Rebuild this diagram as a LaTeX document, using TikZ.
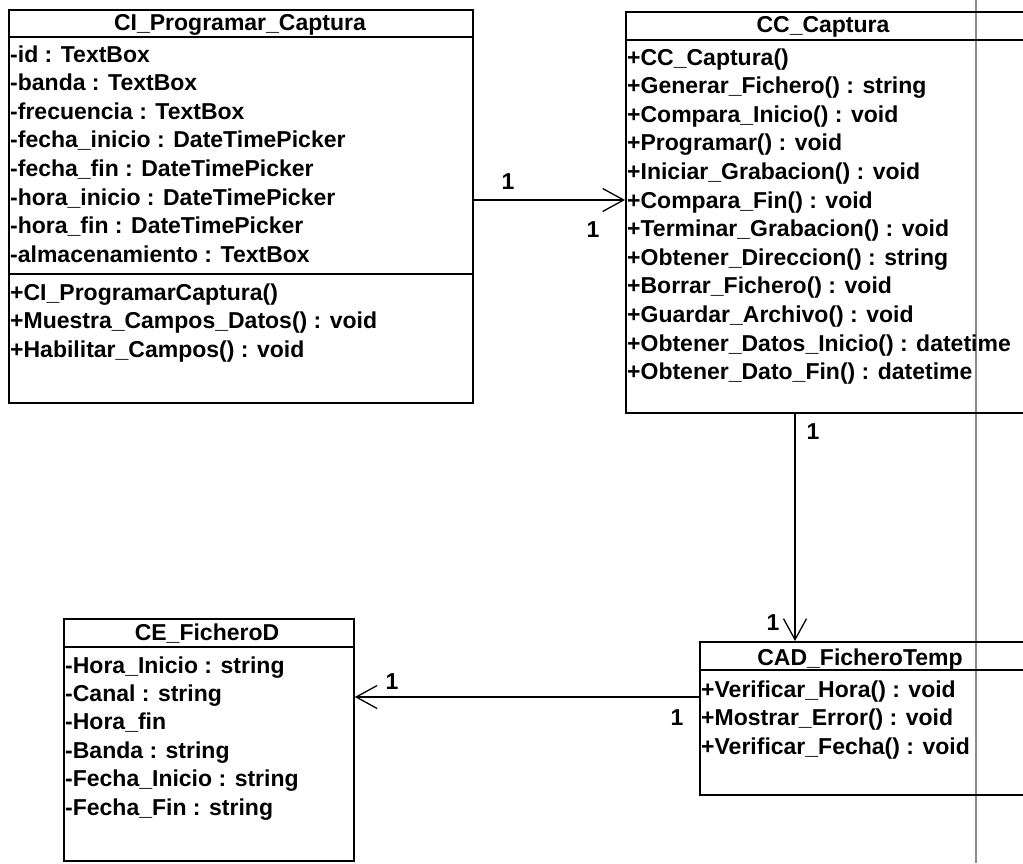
\documentclass[tikz,border=0pt]{standalone}
\usepackage{fontspec}
\setmainfont{Liberation Sans}
\usetikzlibrary{arrows.meta}
\begin{document}
\begin{tikzpicture}[x=1pt,y=-1pt,
  classbox/.style={draw=black, line width=1.8pt, anchor=north west, inner sep=0pt},
  sepline/.style={draw=black, line width=1.8pt},
  txt/.style={inner sep=0pt, font=\bfseries\fontsize{23}{27}\selectfont},
  member/.style={txt, anchor=base west},
  title/.style={txt, anchor=base},
  mult/.style={txt, anchor=base},
  assoc/.style={draw=black, line width=1.3pt, -{Straight Barb[length=21pt,width=23pt]}},
  pageedge/.style={draw=black!45, line width=1.3pt},
]
\useasboundingbox (0,0) rectangle (1023,863);
\clip (0,0) rectangle (1023,863);

% printer page edge
\draw[pageedge] (976,0) -- (976,863);

% ---------------- CI_Programar_Captura ----------------
\node[classbox, minimum width=464pt, minimum height=393pt] (ci) at (8,9) {};
\draw[sepline] ([yshift=-28pt]ci.north west) -- ([yshift=-28pt]ci.north east);
\draw[sepline] ([yshift=-265pt]ci.north west) -- ([yshift=-265pt]ci.north east);
\node[title] (ci-t) at (240,30) {CI\_Programar\_Captura};
\foreach \i/\s in {0/{-id : TextBox},
                   1/{-banda : TextBox},
                   2/{-frecuencia : TextBox},
                   3/{-fecha\_inicio : DateTimePicker},
                   4/{-fecha\_fin : DateTimePicker},
                   5/{-hora\_inicio : DateTimePicker},
                   6/{-hora\_fin : DateTimePicker},
                   7/{-almacenamiento : TextBox}}
  \node[member] (ci-a\i) at (10,62+28.6*\i) {\s};
\foreach \i/\s in {0/{+CI\_ProgramarCaptura()},
                   1/{+Muestra\_Campos\_Datos() : void},
                   2/{+Habilitar\_Campos() : void}}
  \node[member] (ci-o\i) at (10,300+28.6*\i) {\s};

% ---------------- CC_Captura ----------------
\node[classbox, minimum width=440pt, minimum height=401pt] (cc) at (625,11) {};
\draw[sepline] ([yshift=-29pt]cc.north west) -- ([yshift=-29pt]cc.north east);
\node[title] (cc-t) at (823,32) {CC\_Captura};
\foreach \i/\s in {0/{+CC\_Captura()},
                   1/{+Generar\_Fichero() : string},
                   2/{+Compara\_Inicio() : void},
                   3/{+Programar() : void},
                   4/{+Iniciar\_Grabacion() : void},
                   5/{+Compara\_Fin() : void},
                   6/{+Terminar\_Grabacion() : void},
                   7/{+Obtener\_Direccion() : string},
                   8/{+Borrar\_Fichero() : void},
                   9/{+Guardar\_Archivo() : void},
                   10/{+Obtener\_Datos\_Inicio() : datetime},
                   11/{+Obtener\_Dato\_Fin() : datetime}}
  \node[member] (cc-o\i) at (627,65+28.6*\i) {\s};

% ---------------- CAD_FicheroTemp ----------------
\node[classbox, minimum width=360pt, minimum height=153pt] (cad) at (699,641) {};
\draw[sepline] ([yshift=-29pt]cad.north west) -- ([yshift=-29pt]cad.north east);
\node[title] (cad-t) at (860,665) {CAD\_FicheroTemp};
\foreach \i/\s in {0/{+Verificar\_Hora() : void},
                   1/{+Mostrar\_Error() : void},
                   2/{+Verificar\_Fecha() : void}}
  \node[member] (cad-o\i) at (701,697+28.6*\i) {\s};

% ---------------- CE_FicheroD ----------------
\node[classbox, minimum width=290pt, minimum height=242pt] (ce) at (63,618) {};
\draw[sepline] ([yshift=-29pt]ce.north west) -- ([yshift=-29pt]ce.north east);
\node[title] (ce-t) at (207,640) {CE\_FicheroD};
\foreach \i/\s in {0/{-Hora\_Inicio : string},
                   1/{-Canal : string},
                   2/{-Hora\_fin},
                   3/{-Banda : string},
                   4/{-Fecha\_Inicio : string},
                   5/{-Fecha\_Fin : string}}
  \node[member] (ce-a\i) at (65,673+28.4*\i) {\s};

% ---------------- associations ----------------
\coordinate (r1) at (0,200);
\coordinate (r2) at (795,0);
\coordinate (r3) at (0,697);
\draw[assoc] (ci.east |- r1) -- (cc.west |- r1);
\draw[assoc] (cc.south -| r2) -- (cad.north -| r2);
\draw[assoc] (cad.west |- r3) -- (ce.east |- r3);

% multiplicities
\node[mult] (m1) at (508,189) {1};
\node[mult] (m2) at (593,237) {1};
\node[mult] (m3) at (813,439) {1};
\node[mult] (m4) at (773,630) {1};
\node[mult] (m5) at (677,725) {1};
\node[mult] (m6) at (392,689) {1};
\end{tikzpicture}
\end{document}
